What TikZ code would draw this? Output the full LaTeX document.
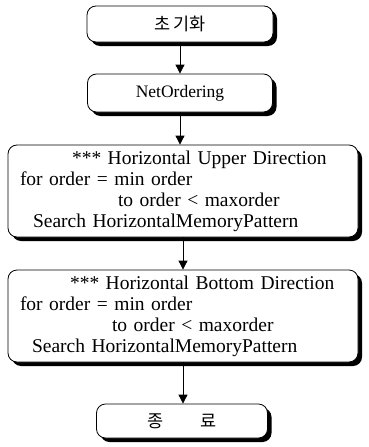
\documentclass[tikz,border=0pt]{standalone}
\usepackage{fontspec}
\setmainfont{Liberation Serif}
\newfontfamily\kofont{Noto Sans CJK KR}
\usetikzlibrary{arrows.meta,shadows}

\begin{document}
\begin{tikzpicture}[
  x=1pt,y=1pt,
  box/.style={draw,thick,fill=white,rounded corners=9pt,
    drop shadow={shadow xshift=4pt,shadow yshift=-4pt,fill=black,opacity=1}},
  smallbox/.style={box,font=\fontsize{17.5}{19}\selectfont},
  loopbox/.style={box,font=\fontsize{19.5}{21}\selectfont,align=left,
    inner xsep=12pt,text width=326pt,minimum height=92pt},
  flow/.style={-{Triangle[length=9pt,width=9pt]},thick}
]
  \useasboundingbox (0,0) rectangle (369,-447);

  \node[smallbox,minimum width=186pt,minimum height=36pt] (init) at (180,-24) {\kofont 초\,기화};
  \node[smallbox,minimum width=185pt,minimum height=38pt] (order) at (180,-93) {NetOrdering};
  \node[loopbox] (upper) at (183,-191)
    {\hspace*{52pt}*** Horizontal Upper Direction\\
     for order = min order\\
     \hspace*{98pt}to order < maxorder\\
     \hspace*{13pt}Search HorizontalMemoryPattern};
  \node[loopbox] (bottom) at (183,-316)
    {\hspace*{50pt}*** Horizontal Bottom Direction\\
     for order = min order\\
     \hspace*{92pt}to order < maxorder\\
     \hspace*{12pt}Search HorizontalMemoryPattern};
  \node[smallbox,minimum width=171pt,minimum height=34pt] (finish) at (182,-421) {\kofont 종\hspace{37pt}료};

  \draw[flow] (init.south) -- (init.south |- order.north);
  \draw[flow] (order.south) -- (order.south |- upper.north);
  \draw[flow] (upper.south) -- (upper.south |- bottom.north);
  \draw[flow] (bottom.south) -- (bottom.south |- finish.north);
\end{tikzpicture}
\end{document}
